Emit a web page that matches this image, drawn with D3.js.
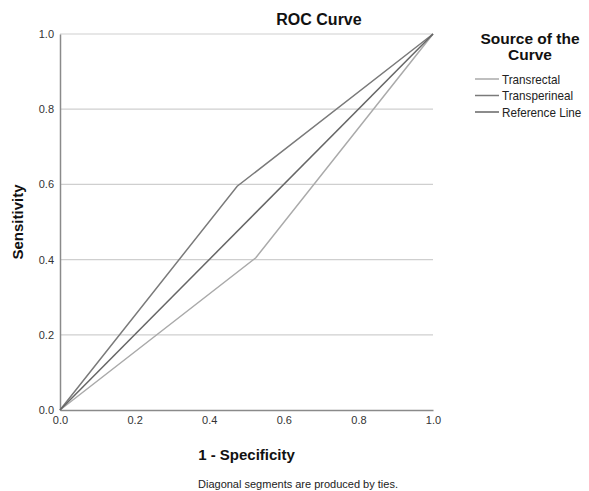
<!DOCTYPE html>
<html>
<head>
<meta charset="utf-8">
<script src="https://cdn.jsdelivr.net/npm/d3@7"></script>
<style>
  body { margin: 0; background: #fff; }
  text { font-family: "Liberation Sans", Arial, sans-serif; }
</style>
</head>
<body>
<div id="chart"></div>
<script>
const seriesNames = ["Transrectal", "Transperineal", "Reference Line"]
const seriesColors = ["#aaaaaa", "#7a7a7a", "#666666"]
// 1 - specificity / sensitivity
const transrectalX = [0, 0.525, 1]
const transrectalY = [0, 0.405, 1]
const transperinealX = [0, 0.475, 1]
const transperinealY = [0, 0.595, 1]
const referenceX = [0, 1]
const referenceY = [0, 1]
const tickValues = [0, 0.2, 0.4, 0.6, 0.8, 1.0]

const W = 589, H = 491
const MARGIN = { TOP: 34, LEFT: 60, RIGHT: 156, BOTTOM: 81 }

const svg = d3.select("#chart").append("svg")
  .attr("width", W).attr("height", H)

const x = d3.scaleLinear().domain([0, 1]).range([MARGIN.LEFT, W - MARGIN.RIGHT])
const y = d3.scaleLinear().domain([0, 1]).range([H - MARGIN.BOTTOM, MARGIN.TOP])

// gridlines
svg.append("g").selectAll("line")
  .data(tickValues.slice(1))
  .join("line")
    .attr("x1", x(0)).attr("x2", x(1))
    .attr("y1", d => y(d)).attr("y2", d => y(d))
    .attr("stroke", "#cfcfcf").attr("stroke-width", 1.2)

// axes
const fmt = d3.format(".1f")
const xAxis = svg.append("g")
  .attr("transform", `translate(0, ${y(0)})`)
  .call(d3.axisBottom(x).tickValues(tickValues).tickFormat(fmt).tickSize(0).tickPadding(6))
const yAxis = svg.append("g")
  .attr("transform", `translate(${x(0)}, 0)`)
  .call(d3.axisLeft(y).tickValues(tickValues).tickFormat(fmt).tickSize(0).tickPadding(6))
;[xAxis, yAxis].forEach(a => {
  a.select(".domain").attr("stroke", "#8a8a8a").attr("stroke-width", 1.5)
  a.selectAll("text").attr("font-size", 11).attr("fill", "#333")
    .style("font-family", "'Liberation Sans', Arial, sans-serif")
})
yAxis.selectAll("text").attr("dy", "0.32em")

// curves
const line = d3.line().x(d => x(d[0])).y(d => y(d[1]))
const curves = [
  d3.zip(transrectalX, transrectalY),
  d3.zip(transperinealX, transperinealY),
  d3.zip(referenceX, referenceY)
]
svg.append("g").selectAll("path")
  .data(curves)
  .join("path")
    .attr("fill", "none")
    .attr("stroke", (d, i) => seriesColors[i])
    .attr("stroke-width", 1.5)
    .attr("d", line)

// titles
svg.append("text")
  .attr("x", 319).attr("y", 25)
  .attr("text-anchor", "middle")
  .attr("font-size", 16).attr("font-weight", "bold").attr("fill", "#111")
  .text("ROC Curve")

svg.append("text")
  .attr("x", (x(0) + x(1)) / 2).attr("y", 460)
  .attr("text-anchor", "middle")
  .attr("font-size", 15).attr("font-weight", "bold").attr("fill", "#111")
  .text("1 - Specificity")

svg.append("text")
  .attr("transform", `translate(23, ${(y(0) + y(1)) / 2}) rotate(-90)`)
  .attr("text-anchor", "middle")
  .attr("font-size", 15).attr("font-weight", "bold").attr("fill", "#111")
  .text("Sensitivity")

svg.append("text")
  .attr("x", 298).attr("y", 488)
  .attr("text-anchor", "middle")
  .attr("font-size", 11).attr("fill", "#222")
  .text("Diagonal segments are produced by ties.")

// legend
const lg = svg.append("g")
lg.append("text")
  .attr("x", 530).attr("y", 44)
  .attr("text-anchor", "middle")
  .attr("font-size", 15.5).attr("font-weight", "bold").attr("fill", "#111")
  .text("Source of the")
lg.append("text")
  .attr("x", 530).attr("y", 60)
  .attr("text-anchor", "middle")
  .attr("font-size", 15.5).attr("font-weight", "bold").attr("fill", "#111")
  .text("Curve")
const rows = lg.selectAll("g.row")
  .data(seriesNames)
  .join("g")
    .attr("class", "row")
    .attr("transform", (d, i) => `translate(0, ${79 + i * 16.5})`)
rows.append("line")
  .attr("x1", 475).attr("x2", 499)
  .attr("stroke", (d, i) => seriesColors[i]).attr("stroke-width", 1.5)
rows.append("text")
  .attr("transform", "translate(502, 0) scale(0.9, 1)")
  .attr("dy", "0.35em")
  .attr("font-size", 13).attr("fill", "#222")
  .text(d => d)
</script>
</body>
</html>
